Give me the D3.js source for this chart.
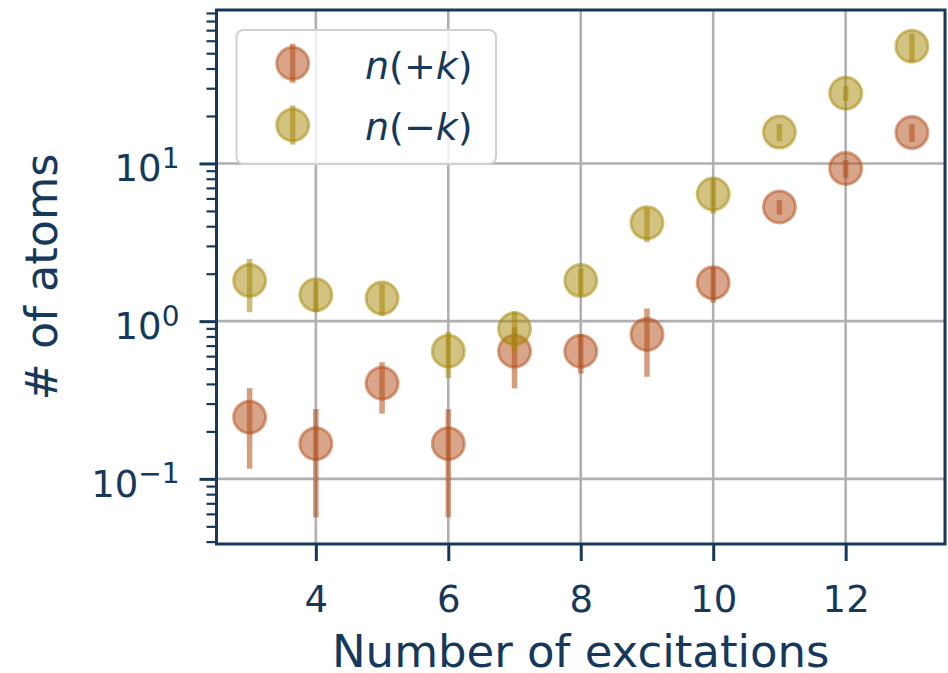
<!DOCTYPE html>
<html>
<head>
<meta charset="utf-8">
<script src="https://cdn.jsdelivr.net/npm/d3@7"></script>
<style>
  html, body { margin: 0; padding: 0; background: #ffffff; }
  svg { display: block; }
  text { font-family: "DejaVu Sans", sans-serif; fill: #16395b; }
</style>
</head>
<body>
<svg id="chart" width="948" height="673"></svg>
<script>
// Occupation of the +k and -k modes against the number of excitations
const excitations = [3, 4, 5, 6, 7, 8, 9, 10, 11, 12, 13];
const nPlus     = [0.246, 0.167, 0.404, 0.167, 0.645, 0.645, 0.824, 1.75, 5.3, 9.3, 15.7];
const nPlusErr  = [0.13, 0.11, 0.145, 0.11, 0.27, 0.18, 0.38, 0.44, 0.57, 1.2, 2.0];
const nMinus    = [1.81, 1.47, 1.40, 0.645, 0.895, 1.81, 4.2, 6.4, 15.8, 27.9, 55.4];
const nMinusErr = [0.67, 0.33, 0.32, 0.21, 0.26, 0.35, 1.03, 1.6, 2.0, 3.0, 11.5];

const xTicks = [4, 6, 8, 10, 12];
const yTicks = [0.1, 1, 10];
const yTickExponents = ["\u22121", "0", "1"];
const seriesLabels = [["n", "(+", "k", ")"], ["n", "(\u2212", "k", ")"]];

const ink = "#16395b";
const colPlus = "#b34b15";
const colMinus = "#a58705";

const svg = d3.select("#chart");
const plotL = 216.5, plotR = 945, plotT = 10, plotB = 544;

const x = d3.scaleLinear().domain([2.5, 13.5]).range([plotL, plotR]);
const y = d3.scaleLog().domain([Math.pow(10, -1.413), Math.pow(10, 1.973)]).range([plotB, plotT]);

// minor ticks for the log axis
const minorTicks = [];
for (let e = -2; e <= 1; e++) {
  for (let m = 2; m <= 9; m++) {
    const v = m * Math.pow(10, e);
    if (v >= y.domain()[0] && v <= y.domain()[1]) minorTicks.push(v);
  }
}

// grid
const grid = svg.append("g");
grid.selectAll("line.gx").data(xTicks).join("line")
  .attr("x1", d => x(d)).attr("x2", d => x(d))
  .attr("y1", plotT).attr("y2", plotB)
  .attr("stroke", "#b0b0b0").attr("stroke-width", 2.6);
grid.selectAll("line.gy").data(yTicks).join("line")
  .attr("x1", plotL).attr("x2", plotR)
  .attr("y1", d => y(d)).attr("y2", d => y(d))
  .attr("stroke", "#b0b0b0").attr("stroke-width", 2.6);

// axes
const xAxis = svg.append("g").attr("transform", `translate(0,${plotB})`)
  .call(d3.axisBottom(x).tickValues(xTicks).tickSize(17).tickPadding(8).tickFormat(d3.format("d")));
xAxis.select(".domain").remove();
xAxis.selectAll(".tick line").attr("stroke", ink).attr("stroke-width", 3);
xAxis.selectAll(".tick text").attr("font-size", 37).attr("fill", ink)
  .attr("font-family", "DejaVu Sans").attr("dy", null).attr("y", 68);

const yMinor = svg.append("g").attr("transform", `translate(${plotL},0)`)
  .call(d3.axisLeft(y).tickValues(minorTicks).tickSize(10).tickFormat(() => ""));
yMinor.select(".domain").remove();
yMinor.selectAll(".tick line").attr("stroke", ink).attr("stroke-width", 2.2);

const yAxis = svg.append("g").attr("transform", `translate(${plotL},0)`)
  .call(d3.axisLeft(y).tickValues(yTicks).tickSize(17).tickFormat(() => ""));
yAxis.select(".domain").remove();
yAxis.selectAll(".tick line").attr("stroke", ink).attr("stroke-width", 3);
yAxis.selectAll(".tick").each(function (d, i) {
  const t = d3.select(this).append("text")
    .attr("x", -37).attr("y", 17.5)
    .attr("text-anchor", "end").attr("fill", ink)
    .attr("font-family", "DejaVu Sans").attr("font-size", 37);
  t.append("tspan").text("10");
  t.append("tspan").attr("font-size", 28).attr("dy", -13.5).text(yTickExponents[i]);
});

// frame
svg.append("rect")
  .attr("x", plotL).attr("y", plotT).attr("width", plotR - plotL).attr("height", plotB - plotT)
  .attr("fill", "none").attr("stroke", ink).attr("stroke-width", 3);

// data
const series = [
  { values: nPlus, errs: nPlusErr, color: colPlus },
  { values: nMinus, errs: nMinusErr, color: colMinus }
];

const plot = svg.append("g");
series.forEach(s => {
  const g = plot.append("g");
  const pts = excitations.map((e, i) => ({ e, v: s.values[i], err: s.errs[i] }));
  g.selectAll("line").data(pts).join("line")
    .attr("x1", d => x(d.e)).attr("x2", d => x(d.e))
    .attr("y1", d => y(d.v + d.err)).attr("y2", d => y(d.v - d.err))
    .attr("stroke", s.color).attr("stroke-width", 5.5).attr("stroke-opacity", 0.55);
  g.selectAll("circle").data(pts).join("circle")
    .attr("cx", d => x(d.e)).attr("cy", d => y(d.v)).attr("r", 16)
    .attr("fill", s.color).attr("fill-opacity", 0.5)
    .attr("stroke", s.color).attr("stroke-opacity", 0.5).attr("stroke-width", 3);
});

// legend
const legend = svg.append("g");
legend.append("rect")
  .attr("x", 236.5).attr("y", 30).attr("width", 259.5).attr("height", 134).attr("rx", 7)
  .attr("fill", "#ffffff").attr("fill-opacity", 0.8)
  .attr("stroke", "#d0d0d0").attr("stroke-width", 2);
series.forEach((s, i) => {
  const cy = 63.3 + i * 61.7;
  legend.append("line")
    .attr("x1", 292.7).attr("x2", 292.7).attr("y1", cy - 19.5).attr("y2", cy + 19.5)
    .attr("stroke", s.color).attr("stroke-width", 5.5).attr("stroke-opacity", 0.55);
  legend.append("circle")
    .attr("cx", 292.7).attr("cy", cy).attr("r", 16)
    .attr("fill", s.color).attr("fill-opacity", 0.5)
    .attr("stroke", s.color).attr("stroke-opacity", 0.5).attr("stroke-width", 3);
  const t = legend.append("text").attr("x", 365).attr("y", cy + 15.2)
    .attr("font-size", 38).attr("fill", ink);
  const parts = seriesLabels[i];
  t.append("tspan").attr("font-style", "italic").text(parts[0]);
  t.append("tspan").text(parts[1]);
  t.append("tspan").attr("font-style", "italic").text(parts[2]);
  t.append("tspan").text(parts[3]);
});

// axis titles
svg.append("text")
  .attr("x", (plotL + plotR) / 2).attr("y", 667)
  .attr("text-anchor", "middle").attr("font-size", 45).attr("fill", ink)
  .text("Number of excitations");
svg.append("text")
  .attr("transform", `translate(57,${(plotT + plotB) / 2}) rotate(-90)`)
  .attr("text-anchor", "middle").attr("font-size", 44.5).attr("fill", ink)
  .text("# of atoms");
</script>
</body>
</html>
